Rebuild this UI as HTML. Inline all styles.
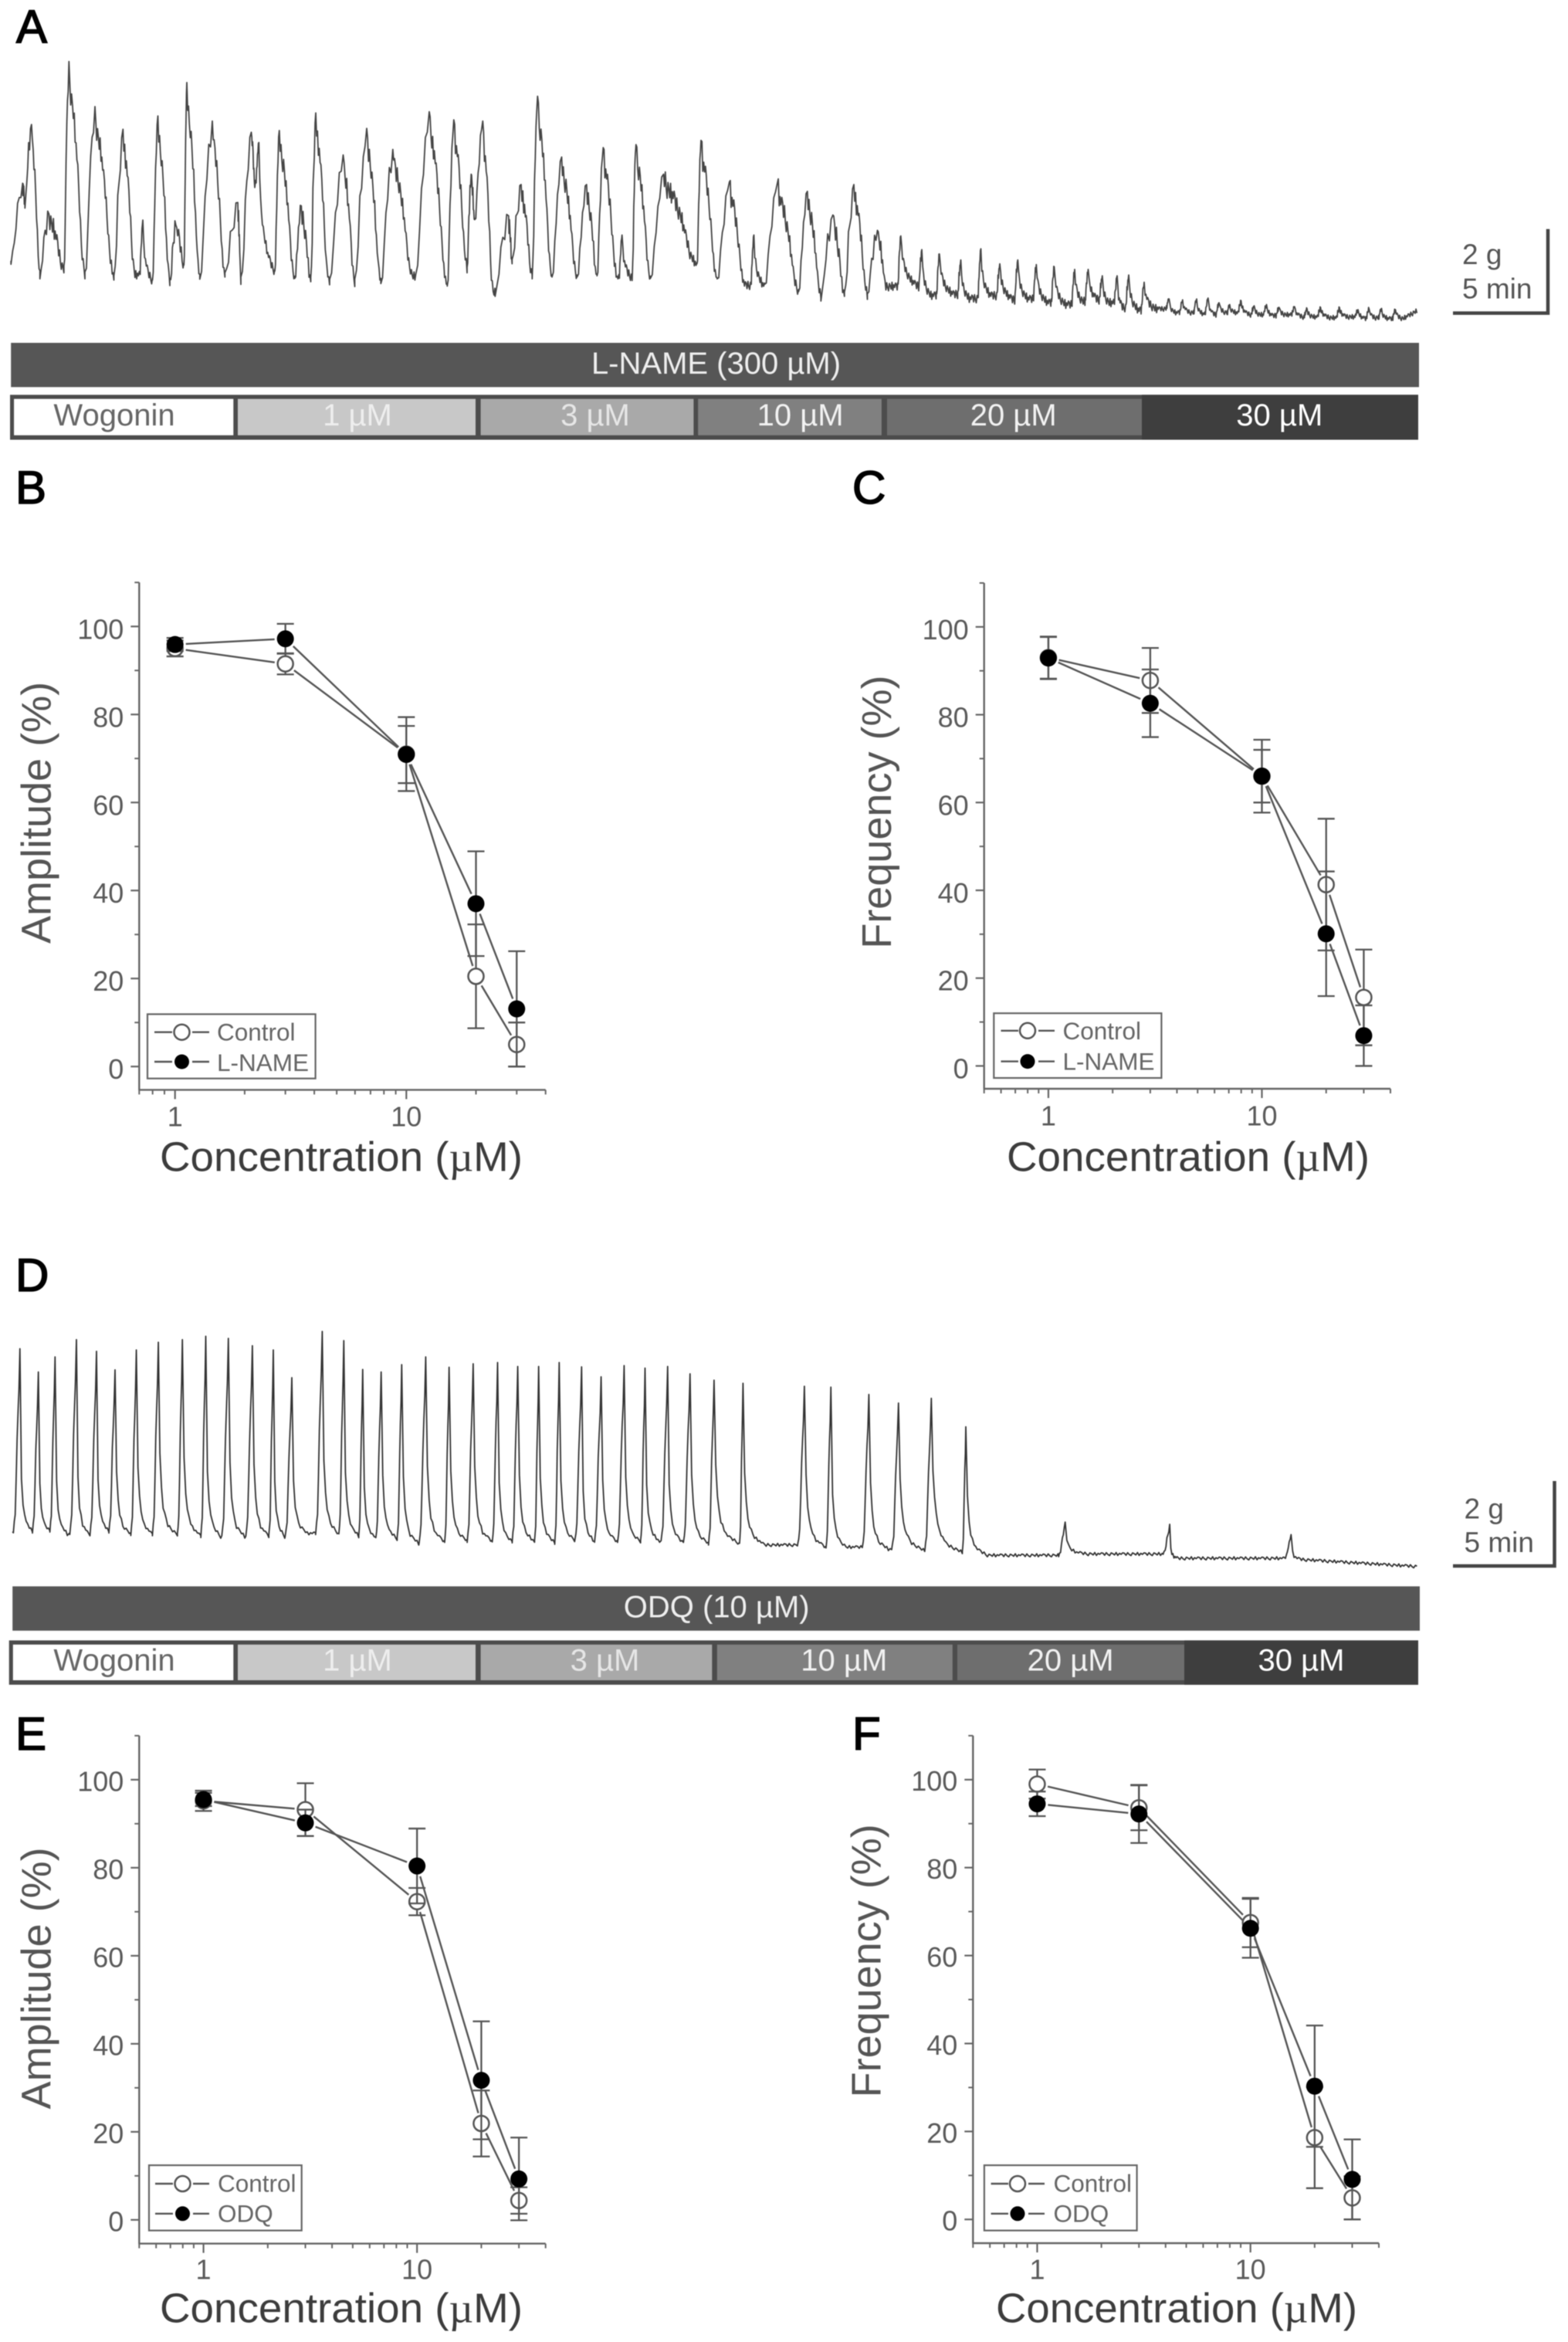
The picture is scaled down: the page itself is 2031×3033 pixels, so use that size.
<!DOCTYPE html>
<html lang="en">
<head>
<meta charset="utf-8">
<title>Wogonin concentration-response figure</title>
<style>
html,body{margin:0;padding:0;background:#fff;}
svg{display:block;font-family:"Liberation Sans",Arial,sans-serif;filter:blur(0.6px);}
.tick{font-size:36px;fill:#5a5a5a;}
.xt{font-size:54px;fill:#3c3c3c;}
.yt{font-size:54px;fill:#555;}
.lg{font-size:31.5px;fill:#666;}
.letter{font-size:60px;fill:#000;stroke:#000;stroke-width:1.6px;}
.scale{font-size:37px;fill:#555;}
.dose{font-size:40px;text-anchor:middle;}
.mu{font-family:"Liberation Serif",serif;}
</style>
</head>
<body>
<svg id="figure" width="2031" height="3033" viewBox="0 0 2031 3033" xmlns="http://www.w3.org/2000/svg">
<rect x="0" y="0" width="2031" height="3033" fill="#fff"/>

<text class="letter" x="21" y="55">A</text>
<text class="letter" x="20" y="652">B</text>
<text class="letter" x="1104" y="652">C</text>
<text class="letter" x="20" y="1672">D</text>
<text class="letter" x="20" y="2266">E</text>
<text class="letter" x="1104" y="2266">F</text>

<g id="trace-a"></g>
<g>
  <path d="M1882 405.5H2005V296.6" fill="none" stroke="#444" stroke-width="4.5"/>
  <text class="scale" x="1894" y="342">2 g</text>
  <text class="scale" x="1894" y="386.5">5 min</text>
</g>
<g>
  <rect x="14.2" y="444" width="1823.8" height="57.3" fill="#565656"/>
  <text class="dose" x="927.5" y="484" fill="#eee">L-NAME (300 µM)</text>
</g>
<g>
  <rect x="13" y="511.3" width="1824" height="58.2" fill="#4c4c4c"/>
  <rect x="18.1" y="516.6" width="284.2" height="47.1" fill="#fff"/>
  <rect x="308" y="516.6" width="308" height="47.1" fill="#c8c8c8"/>
  <rect x="622.6" y="516.6" width="275.8" height="47.1" fill="#a9a9a9"/>
  <rect x="904.2" y="516.6" width="237.7" height="47.1" fill="#808080"/>
  <rect x="1149" y="516.6" width="330" height="47.1" fill="#6e6e6e"/>
  <rect x="1479" y="511.3" width="358" height="58.2" fill="#3e3e3e"/>
  <text class="dose" x="148" y="551" fill="#666">Wogonin</text>
  <text class="dose" x="463" y="551" fill="#eee">1 µM</text>
  <text class="dose" x="771" y="551" fill="#e6e6e6">3 µM</text>
  <text class="dose" x="1036.6" y="551" fill="#f2f2f2">10 µM</text>
  <text class="dose" x="1312.7" y="551" fill="#f2f2f2">20 µM</text>
  <text class="dose" x="1657.3" y="551" fill="#fff">30 µM</text>
</g>

<g id="panel-b">
  <text class="yt" transform="translate(65.4,1052.5) rotate(-90)" text-anchor="middle">Amplitude (%)</text>
  <text class="xt" x="207" y="1516.7" textLength="470" lengthAdjust="spacingAndGlyphs">Concentration (<tspan class="mu">µ</tspan>M)</text>
  <g>
    <rect x="191" y="1313.4" width="217.6" height="83.3" fill="#fff" stroke="#666" stroke-width="2.2"/>
    <path d="M200 1336.7H223M249 1336.7H271" stroke="#555" stroke-width="2.4"/>
    <circle cx="235.5" cy="1336.7" r="10" fill="#fff" stroke="#555" stroke-width="2.5"/>
    <text class="lg" x="281" y="1347.7">Control</text>
    <path d="M200 1375H223M249 1375H271" stroke="#555" stroke-width="2.4"/>
    <circle cx="235.5" cy="1375" r="9.5" fill="#000"/>
    <text class="lg" x="281" y="1386.9">L-NAME</text>
  </g>
</g>

<g id="panel-c">
  <text class="yt" transform="translate(1154,1051.6) rotate(-90)" text-anchor="middle">Frequency (%)</text>
  <text class="xt" x="1304" y="1516.7" textLength="470" lengthAdjust="spacingAndGlyphs">Concentration (<tspan class="mu">µ</tspan>M)</text>
  <g>
    <rect x="1287.3" y="1312.2" width="217.1" height="83.8" fill="#fff" stroke="#666" stroke-width="2.2"/>
    <path d="M1296.5 1334.8H1319M1345 1334.8H1366" stroke="#555" stroke-width="2.4"/>
    <circle cx="1331" cy="1334.8" r="10" fill="#fff" stroke="#555" stroke-width="2.5"/>
    <text class="lg" x="1376.5" y="1346">Control</text>
    <path d="M1296.5 1374.6H1319M1345 1374.6H1366" stroke="#555" stroke-width="2.4"/>
    <circle cx="1331" cy="1374.6" r="9.5" fill="#000"/>
    <text class="lg" x="1376.5" y="1385.7">L-NAME</text>
  </g>
</g>

<g id="trace-d"></g>
<g>
  <path d="M1882 2028H2013.5V1918" fill="none" stroke="#444" stroke-width="4.5"/>
  <text class="scale" x="1896.5" y="1966.3">2 g</text>
  <text class="scale" x="1896.5" y="2010">5 min</text>
</g>
<g>
  <rect x="16.2" y="2054.4" width="1822.8" height="57.4" fill="#565656"/>
  <text class="dose" x="928.2" y="2094.5" fill="#eee">ODQ (10 µM)</text>
</g>
<g>
  <rect x="11.7" y="2124.4" width="1825.3" height="57.4" fill="#4c4c4c"/>
  <rect x="16.8" y="2129.8" width="285.5" height="46.2" fill="#fff"/>
  <rect x="308" y="2129.8" width="308" height="46.2" fill="#c8c8c8"/>
  <rect x="622.6" y="2129.8" width="299.7" height="46.2" fill="#a9a9a9"/>
  <rect x="928.8" y="2129.8" width="305" height="46.2" fill="#808080"/>
  <rect x="1240" y="2129.8" width="294" height="46.2" fill="#6e6e6e"/>
  <rect x="1534" y="2124.4" width="303" height="57.4" fill="#3e3e3e"/>
  <text class="dose" x="148" y="2163.4" fill="#666">Wogonin</text>
  <text class="dose" x="463" y="2163.4" fill="#eee">1 µM</text>
  <text class="dose" x="783.5" y="2163.4" fill="#e6e6e6">3 µM</text>
  <text class="dose" x="1093.3" y="2163.4" fill="#f2f2f2">10 µM</text>
  <text class="dose" x="1386.6" y="2163.4" fill="#f2f2f2">20 µM</text>
  <text class="dose" x="1685.5" y="2163.4" fill="#fff">30 µM</text>
</g>

<g id="panel-e">
  <text class="yt" transform="translate(65.4,2561.9) rotate(-90)" text-anchor="middle">Amplitude (%)</text>
  <text class="xt" x="207" y="3007.7" textLength="470" lengthAdjust="spacingAndGlyphs">Concentration (<tspan class="mu">µ</tspan>M)</text>
  <g>
    <rect x="193" y="2804.1" width="197.7" height="84.5" fill="#fff" stroke="#666" stroke-width="2.2"/>
    <path d="M201 2828H224M250 2828H271" stroke="#555" stroke-width="2.4"/>
    <circle cx="236.5" cy="2828" r="10" fill="#fff" stroke="#555" stroke-width="2.5"/>
    <text class="lg" x="282" y="2838.5">Control</text>
    <path d="M201 2866.8H224M250 2866.8H271" stroke="#555" stroke-width="2.4"/>
    <circle cx="236.5" cy="2866.8" r="9.5" fill="#000"/>
    <text class="lg" x="282" y="2877.5">ODQ</text>
  </g>
</g>

<g id="panel-f">
  <text class="yt" transform="translate(1140.6,2539.3) rotate(-90)" text-anchor="middle">Frequency (%)</text>
  <text class="xt" x="1290" y="3007.7" textLength="468" lengthAdjust="spacingAndGlyphs">Concentration (<tspan class="mu">µ</tspan>M)</text>
  <g>
    <rect x="1274.9" y="2804.1" width="197.7" height="84.5" fill="#fff" stroke="#666" stroke-width="2.2"/>
    <path d="M1283.6 2828H1306M1332 2828H1353" stroke="#555" stroke-width="2.4"/>
    <circle cx="1318" cy="2828" r="10" fill="#fff" stroke="#555" stroke-width="2.5"/>
    <text class="lg" x="1364.5" y="2838.5">Control</text>
    <path d="M1283.6 2866.8H1306M1332 2866.8H1353" stroke="#555" stroke-width="2.4"/>
    <circle cx="1318" cy="2866.8" r="9.5" fill="#000"/>
    <text class="lg" x="1364.5" y="2877.5">ODQ</text>
  </g>
</g>
</svg>

<script>
/* ---------- dose-response data ---------- */
const concentrations = [1, 3, 10, 20, 30];
const yMajorTicks = [0, 20, 40, 60, 80, 100];
const yMinorTicks = [10, 30, 50, 70, 90, 110];
const xLabelledTicks = [1, 10];
const xMinorTicks = [0.5, 0.6, 0.7, 0.8, 0.9, 2, 3, 4, 5, 6, 7, 8, 9, 20, 30, 40];

const bControl = [95, 91.5, 71, 20.5, 5];
const bControlErr = [1.8, 2.4, 8.4, 11.8, 5];
const bLname = [95.9, 97.2, 70.9, 37, 13.1];
const bLnameErr = [1.5, 3.4, 6.5, 11.9, 13.1];

const cControl = [93, 87.8, 66, 41.3, 15.6];
const cControlErr = [4.8, 7.4, 8.3, 15, 10.9];
const cLname = [92.9, 82.6, 66, 30.1, 6.9];
const cLnameErr = [4.8, 7.7, 6, 14.2, 6.9];

const eControl = [95.2, 93.2, 72.3, 21.9, 4.4];
const eControlErr = [2.3, 6, 3.1, 7.5, 3];
const eOdq = [95.5, 90.2, 80.4, 31.7, 9.3];
const eOdqErr = [1.5, 3, 8.5, 13.4, 9.4];

const fControl = [99, 93.6, 67.5, 18.6, 4.9];
const fControlErr = [3.3, 5.1, 5.6, 11.5, 4.9];
const fOdq = [94.5, 92.2, 66.2, 30.3, 9.1];
const fOdqErr = [2.8, 6.6, 6.7, 13.8, 9.1];

/* ---------- isometric tension traces: minutes and grams ---------- */
const aStart = [0.57, 1.5];
const aPeakTimes = [1.17,1.63,2.54,3.57,4.92,6.37,7.40,8.18,9.11,9.68,11.00,12.32,13.02,13.41,14.47,15.61,16.36,17.78,19.00,20.35,22.24,23.51,24.41,25.01,26.35,27.00,27.85,29.10,30.39,31.25,32.23,32.95,34.38,36.32,37.79,39.06,40.28,41.83,43.15,44.24,45.46,46.67,47.76,48.67,49.78,50.82,51.80,52.73,53.69,54.62,55.68,56.38,57.11,57.88,58.48,59.28,60.57,61.27,62.00,62.59,63.16,63.71,64.30,64.98,65.62,66.27,67.07,67.72,68.42,69.40,70.36,70.93,71.58,72.30];
const aPeakForces = [3.31,4.68,2.59,6.15,5.10,4.57,2.45,4.88,2.33,5.66,4.76,2.86,4.50,4.26,4.54,2.78,4.95,3.97,4.59,4.10,4.98,4.79,3.52,4.76,2.55,3.28,5.34,3.92,3.28,4.14,2.10,4.21,3.52,4.31,3.34,2.10,3.32,3.12,2.57,3.28,2.21,2.08,1.76,1.66,1.52,1.78,1.43,1.52,1.41,1.36,1.30,1.30,1.15,1.15,1.17,1.00,0.61,0.59,0.61,0.63,0.52,0.48,0.57,0.45,0.48,0.41,0.43,0.38,0.41,0.41,0.36,0.38,0.39,0.36];
const aTroughTimes = [1.29,2.07,3.31,4.40,5.90,6.99,7.90,8.80,9.53,10.35,11.65,12.48,13.20,14.24,15.27,16.10,17.03,18.38,19.73,21.36,23.17,24.20,24.59,25.55,26.53,27.57,28.60,29.90,30.93,31.97,32.75,33.70,36.11,37.15,38.57,39.61,41.37,42.53,43.75,44.94,45.90,47.58,48.23,49.39,50.22,51.33,52.50,53.27,54.31,55.22,56.12,56.90,57.47,58.19,59.02,59.88,60.91,61.69,62.33,62.98,63.58,64.10,64.79,65.31,65.96,66.61,67.51,68.08,68.94,69.84,70.75,71.27,71.91,72.69];
const aTroughForces = [2.83,1.17,1.28,1.14,1.07,1.17,1.03,1.00,1.38,1.10,1.14,1.03,3.31,1.24,1.07,1.03,1.03,1.00,1.00,1.14,0.86,1.31,2.41,0.76,1.45,1.14,1.10,1.10,1.10,1.10,1.10,1.07,1.38,1.03,0.93,0.90,0.76,0.66,0.69,0.69,0.90,0.90,0.69,0.72,0.62,0.69,0.59,0.61,0.52,0.48,0.55,0.59,0.52,0.41,0.34,0.38,0.29,0.29,0.26,0.24,0.28,0.28,0.24,0.24,0.22,0.24,0.19,0.19,0.17,0.19,0.15,0.17,0.15,0.15];
const aEnd = [73.41, 0.33];

const dStart = [0.61, 1.03];
const dPeakTimes = [0.97,1.87,2.68,3.72,4.70,5.60,6.64,7.71,8.88,10.02,11.12,12.29,13.31,14.21,15.69,16.74,17.66,18.56,19.56,20.73,21.87,23.04,24.23,25.21,26.23,27.23,28.32,29.27,30.39,31.41,32.51,33.60,34.77,36.18,39.17,40.46,42.31,43.75,45.35,47.03,51.87,56.96,62.87];
const dPeakForces = [5.27,4.73,5.08,5.48,5.21,4.78,5.24,5.42,5.48,5.56,5.51,5.34,5.24,4.60,5.67,5.46,4.79,4.73,4.90,5.08,4.84,4.92,4.95,4.86,4.86,4.95,4.85,4.62,4.88,4.82,4.86,4.69,4.54,4.47,4.40,4.38,4.21,4.01,4.12,3.46,1.25,1.20,0.96];
const dTroughTimes = [1.58,2.43,3.28,4.33,5.30,6.37,7.42,8.64,9.78,10.75,11.92,13.09,13.87,14.96,16.50,17.47,18.30,19.34,20.39,21.65,22.75,23.97,24.94,26.03,27.01,27.98,28.95,30.05,31.19,32.12,33.21,34.50,36.01,37.23,40.22,41.20,43.26,44.96,46.86,48.08,52.99,57.37,63.45];
const dTroughForces = [1.03,1.04,0.97,0.96,1.03,0.97,0.96,0.95,0.92,0.91,0.91,0.92,0.91,0.99,0.97,0.92,0.87,0.86,0.75,0.79,0.81,0.80,0.79,0.79,0.77,0.82,0.79,0.79,0.79,0.79,0.79,0.75,0.75,0.72,0.66,0.67,0.62,0.60,0.55,0.48,0.51,0.41,0.38];
const dEnd = [69.00, 0.22];

const tremorPattern = [0.5, -0.8, 0.9, -0.3, -1, 0.7, 0.2, -0.6, 1, -0.9, 0.4, -0.2, 0.8];

const SVGNS = 'http://www.w3.org/2000/svg';
function add(parent, tag, attrs, txt) {
  const el = document.createElementNS(SVGNS, tag);
  for (const k in attrs) el.setAttribute(k, attrs[k]);
  if (txt !== undefined) el.textContent = txt;
  parent.appendChild(el);
  return el;
}

/* ---------- traces ---------- */
function interp(u, xs, ys) {
  for (let i = 1; i < xs.length; i++) {
    if (u <= xs[i]) {
      const f = (u - xs[i - 1]) / (xs[i] - xs[i - 1]);
      return ys[i - 1] + f * (ys[i] - ys[i - 1]);
    }
  }
  return ys[ys.length - 1];
}

function drawTrace(groupId, name, cfg, start, end, pt, pf, tt, tf) {
  const g = document.getElementById(groupId);
  const tx = t => cfg.pxPerMin * t;
  const fy = f => cfg.zeroY - cfg.pxPerGram * f;
  const dt = cfg.step;
  const noiseAt = t => (t > cfg.quietAfter ? cfg.baseNoise * 0.55 : cfg.baseNoise);
  let k = 0;
  const pts = [];
  const push = (t, f, amp) => {
    const n = tremorPattern[k++ % tremorPattern.length];
    pts.push(tx(t).toFixed(1) + ',' + fy(f + n * amp).toFixed(1));
  };
  let prevT = start[0], prevF = start[1];
  push(prevT, prevF, 0);
  for (let i = 0; i < pt.length; i++) {
    const amp = pf[i] - prevF;
    const small = amp < cfg.smallAmp;
    const riseDur = small ? cfg.smallRise : cfg.riseDur;
    const fallH = small ? cfg.smallFallH : cfg.fallH;
    const riseStart = Math.max(prevT, pt[i] - riseDur);
    for (let t = prevT + dt; t < riseStart; t += dt) push(t, prevF, noiseAt(t));
    const nR = 7;
    for (let j = 0; j <= nR; j++) {
      const u = j / nR;
      const h = interp(u, cfg.riseU, cfg.riseH);
      const t = riseStart + u * (pt[i] - riseStart);
      push(t, prevF + h * amp, j === nR ? 0 : noiseAt(t) + (small ? 0 : cfg.topNoise * h));
    }
    const fallLen = tt[i] - pt[i];
    const nF = Math.max(8, Math.round(fallLen / dt));
    for (let j = 1; j <= nF; j++) {
      const u = j / nF;
      const h = interp(u, cfg.fallU, fallH);
      const t = pt[i] + u * fallLen;
      push(t, tf[i] + h * (pf[i] - tf[i]), noiseAt(t) + (small ? 0 : cfg.topNoise * h));
    }
    prevT = tt[i];
    prevF = tf[i];
  }
  const endSteps = Math.max(1, Math.round((end[0] - prevT) / dt));
  for (let j = 1; j <= endSteps; j++) {
    const t = prevT + (end[0] - prevT) * j / endSteps;
    push(t, prevF + (end[1] - prevF) * j / endSteps, noiseAt(t));
  }
  const line = add(g, 'polyline', {points: pts.join(' '), fill: 'none', stroke: cfg.color, 'stroke-width': cfg.width, 'stroke-linejoin': 'round'});
  
  
}

drawTrace('trace-a', 'tension-trace-a', {
  pxPerMin: 25, pxPerGram: 55.5, zeroY: 421, step: 0.045,
  riseDur: 0.7, riseU: [0, 0.2, 0.45, 0.7, 1], riseH: [0, 0.1, 0.55, 0.78, 1],
  fallU: [0, 0.1, 0.3, 0.55, 0.8, 1], fallH: [1, 0.85, 0.75, 0.5, 0.12, 0],
  smallAmp: 1.3, smallRise: 0.16, smallFallH: [1, 0.55, 0.3, 0.14, 0.05, 0],
  baseNoise: 0.1, topNoise: 0.16, quietAfter: 60, color: '#454545', width: 1.8
}, aStart, aEnd, aPeakTimes, aPeakForces, aTroughTimes, aTroughForces);

drawTrace('trace-d', 'tension-trace-d', {
  pxPerMin: 26.6, pxPerGram: 55.85, zeroY: 2041, step: 0.08,
  riseDur: 0.32, riseU: [0, 0.3, 0.6, 0.85, 1], riseH: [0, 0.1, 0.55, 0.78, 1],
  fallU: [0, 0.05, 0.12, 0.25, 0.5, 1], fallH: [1, 0.55, 0.3, 0.14, 0.05, 0],
  smallAmp: 0, smallRise: 0.32, smallFallH: [1, 0.55, 0.3, 0.14, 0.05, 0],
  baseNoise: 0.035, topNoise: 0, quietAfter: 999, color: '#333', width: 1.8
}, dStart, dEnd, dPeakTimes, dPeakForces, dTroughTimes, dTroughForces);

/* ---------- dose-response panels ---------- */
function drawPanel(groupId, key, cfg, ctrl, ctrlErr, treat, treatErr) {
  const panel = document.getElementById(groupId);
  const legendFirst = panel.querySelector('g');
  const host = document.createElementNS(SVGNS, 'g');
  
  
  panel.insertBefore(host, legendFirst);

  const logMin = Math.log10(cfg.xDomain[0]);
  const logMax = Math.log10(cfg.xDomain[1]);
  const X = v => cfg.left + (Math.log10(v) - logMin) / (logMax - logMin) * (cfg.right - cfg.left);
  const Y = v => cfg.bottom - (v - cfg.yDomain[0]) / (cfg.yDomain[1] - cfg.yDomain[0]) * (cfg.bottom - cfg.top);
  const axisColor = '#666';

  const yAxis = add(host, 'line', {x1: cfg.left, x2: cfg.left, y1: cfg.top, y2: cfg.bottom, stroke: axisColor, 'stroke-width': 2.4});
  
  
  const xAxis = add(host, 'line', {x1: cfg.left - 1, x2: cfg.right, y1: cfg.bottom, y2: cfg.bottom, stroke: axisColor, 'stroke-width': 2.4});
  
  

  yMajorTicks.forEach(v => {
    const t = add(host, 'line', {x1: cfg.left - 11, x2: cfg.left, y1: Y(v), y2: Y(v), stroke: axisColor, 'stroke-width': 2.2});
    
    
    const l = add(host, 'text', {class: 'tick', x: cfg.left - 20, y: Y(v) + cfg.labelDy, 'text-anchor': 'end'}, String(v));
    
    
  });
  yMinorTicks.forEach(v => {
    const t = add(host, 'line', {x1: cfg.left - 6, x2: cfg.left, y1: Y(v), y2: Y(v), stroke: axisColor, 'stroke-width': 2});
    
    
  });
  xLabelledTicks.forEach(v => {
    const t = add(host, 'line', {x1: X(v), x2: X(v), y1: cfg.bottom, y2: cfg.bottom + 12, stroke: axisColor, 'stroke-width': 2.2});
    
    
    const l = add(host, 'text', {class: 'tick', x: X(v), y: cfg.xLabelY, 'text-anchor': 'middle'}, String(v));
    
    
  });
  xMinorTicks.filter(v => v >= cfg.xDomain[0] && v <= cfg.xDomain[1]).forEach(v => {
    const t = add(host, 'line', {x1: X(v), x2: X(v), y1: cfg.bottom, y2: cfg.bottom + 6, stroke: axisColor, 'stroke-width': 2});
    
    
  });

  const color = '#555';
  const gap = 14;
  function series(values, errs, sname, open) {
    const px = concentrations.map(X);
    const py = values.map(Y);
    for (let i = 0; i < values.length; i++) {
      const hi = Y(values[i] + errs[i]), lo = Y(values[i] - errs[i]);
      const eb = add(host, 'path', {
        d: 'M' + (px[i] - 11) + ' ' + hi + 'H' + (px[i] + 11) + 'M' + px[i] + ' ' + hi + 'V' + lo + 'M' + (px[i] - 11) + ' ' + lo + 'H' + (px[i] + 11),
        fill: 'none', stroke: color, 'stroke-width': 2.3
      });
      
      
    }
    for (let i = 0; i + 1 < values.length; i++) {
      const dx = px[i + 1] - px[i], dy = py[i + 1] - py[i];
      const len = Math.hypot(dx, dy);
      const ux = dx / len, uy = dy / len;
      const seg = add(host, 'line', {
        x1: px[i] + ux * gap, y1: py[i] + uy * gap,
        x2: px[i + 1] - ux * gap, y2: py[i + 1] - uy * gap,
        stroke: color, 'stroke-width': 2.4
      });
      
      
    }
    for (let i = 0; i < values.length; i++) {
      const attrs = open
        ? {cx: px[i], cy: py[i], r: 10, fill: '#fff', stroke: color, 'stroke-width': 2.5}
        : {cx: px[i], cy: py[i], r: 11, fill: '#000'};
      const m = add(host, 'circle', attrs);
      
      
    }
  }
  series(ctrl, ctrlErr, 'control', true);
  series(treat, treatErr, 'treatment', false);
}

drawPanel('panel-b', 'panel-b', {left: 180.3, right: 706.7, top: 754.3, bottom: 1411.4, xDomain: [0.7, 40], yDomain: [-5.3, 110], labelDy: 16, xLabelY: 1458.5}, bControl, bControlErr, bLname, bLnameErr);
drawPanel('panel-c', 'panel-c', {left: 1274.7, right: 1801, top: 755, bottom: 1410, xDomain: [0.5, 40], yDomain: [-5.2, 110], labelDy: 16, xLabelY: 1457.5}, cControl, cControlErr, cLname, cLnameErr);
drawPanel('panel-e', 'panel-e', {left: 180.3, right: 706.7, top: 2247.8, bottom: 2905.6, xDomain: [0.5, 40], yDomain: [-5.4, 110], labelDy: 14.5, xLabelY: 2951.3}, eControl, eControlErr, eOdq, eOdqErr);
drawPanel('panel-f', 'panel-f', {left: 1260.3, right: 1786, top: 2247.8, bottom: 2905, xDomain: [0.5, 40], yDomain: [-5.4, 110], labelDy: 14.5, xLabelY: 2951.3}, fControl, fControlErr, fOdq, fOdqErr);
</script>
</body>
</html>
